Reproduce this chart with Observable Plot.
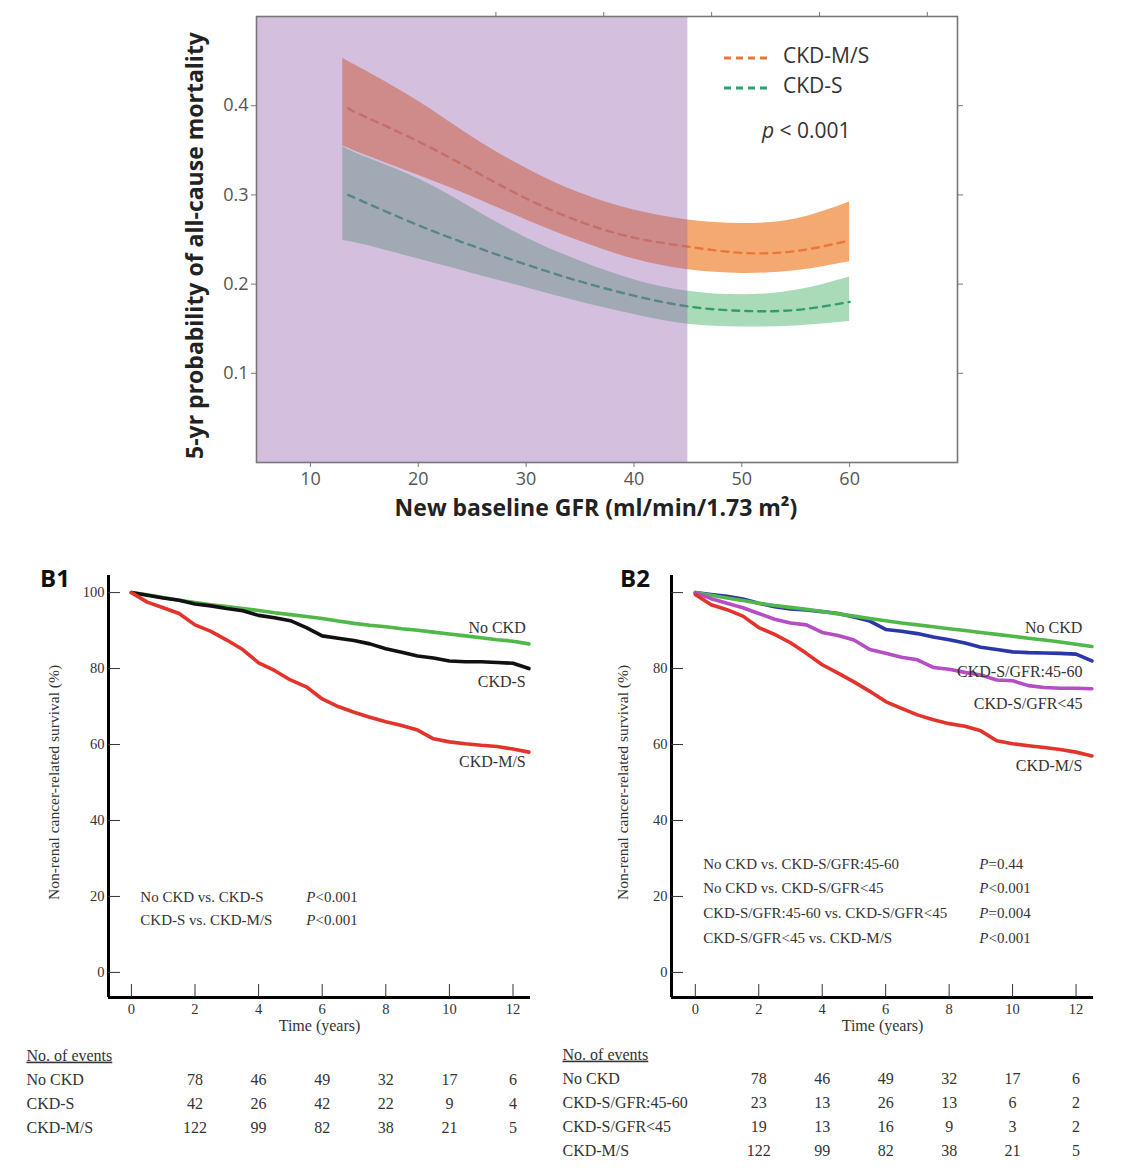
<!DOCTYPE html>
<html><head><meta charset="utf-8">
<script src="https://cdn.jsdelivr.net/npm/d3@7"></script>
<script src="https://cdn.jsdelivr.net/npm/@observablehq/plot@0.6"></script>
<style>
body{margin:0;background:#fff;}
#fig{position:relative;width:1140px;height:1176px;overflow:hidden;background:#fff;}
.leg{position:absolute;font-family:'Open Sans',sans-serif;font-size:21px;color:#333;line-height:1;white-space:nowrap;}
.blab{position:absolute;font-family:'Open Sans',sans-serif;font-weight:bold;font-size:24px;color:#111;line-height:1;}
</style></head><body><div id="fig"></div>
<script>
// ---------------- Panel A data ----------------
const gfrBand = [13, 15, 20, 25, 30, 35, 40, 45, 50, 55, 60];
const msUpper = [0.453, 0.440, 0.405, 0.365, 0.330, 0.302, 0.283, 0.272, 0.268, 0.273, 0.292];
const msLower = [0.355, 0.345, 0.322, 0.298, 0.272, 0.248, 0.228, 0.216, 0.212, 0.215, 0.225];
const sUpper  = [0.354, 0.343, 0.318, 0.285, 0.252, 0.226, 0.205, 0.192, 0.188, 0.193, 0.208];
const sLower  = [0.249, 0.244, 0.228, 0.212, 0.196, 0.180, 0.166, 0.155, 0.152, 0.153, 0.158];
const gfrFit  = [13.5, 15, 20, 25, 30, 35, 40, 45, 50, 55, 60];
const msFit   = [0.397, 0.388, 0.360, 0.328, 0.296, 0.270, 0.252, 0.242, 0.235, 0.237, 0.249];
const sFit    = [0.300, 0.292, 0.266, 0.243, 0.222, 0.203, 0.187, 0.175, 0.170, 0.171, 0.180];
const gfrCutoff = 45;
const aXDomain = [5, 70];
const aYDomain = [0, 0.5];
const aXTicks = [10, 20, 30, 40, 50, 60];
const aYTicks = [0.1, 0.2, 0.3, 0.4];
const aTopTicks = [27.2, 37.2, 47.2, 57.2, 67.2];
const aXTitle = "New baseline GFR (ml/min/1.73 m²)";
const aYTitle = "5-yr probability of all-cause mortality";
const aSeries = ["CKD-M/S", "CKD-S"];
const aPText = "< 0.001";

// ---------------- Panel B data ----------------
const bTime = [0,0.5,1,1.5,2,2.5,3,3.5,4,4.5,5,5.5,6,6.5,7,7.5,8,8.5,9,9.5,10,10.5,11,11.5,12,12.5];
const b1NoCkd = [100,99.4,98.7,98.0,97.4,96.8,96.3,95.8,95.3,94.7,94.2,93.7,93.2,92.5,91.9,91.4,91.0,90.5,90.1,89.6,89.1,88.6,88.1,87.6,87.2,86.5];
const b1CkdS  = [100,99.3,98.6,98.0,97.0,96.5,95.8,95.2,94.0,93.4,92.6,90.8,88.6,88.0,87.4,86.5,85.2,84.3,83.3,82.8,82.0,81.8,81.8,81.6,81.4,80.0];
const b1CkdMS = [100,97.5,96.0,94.5,91.5,89.8,87.5,85.0,81.5,79.5,77.0,75.2,72.0,70.0,68.5,67.2,66.0,65.0,63.8,61.5,60.7,60.2,59.8,59.5,58.8,58.0];
const b2NoCkd   = [100,99.3,98.6,97.9,97.2,96.6,96.1,95.6,95.0,94.4,93.8,93.2,92.6,92.0,91.5,91.0,90.5,90.0,89.5,89.0,88.5,88.0,87.5,87.0,86.4,85.8];
const b2Gfr4560 = [100,99.5,99.0,98.3,97.2,96.3,95.7,95.4,95.0,94.5,93.6,92.5,90.3,89.8,89.2,88.3,87.6,86.7,85.6,85.0,84.4,84.2,84.1,84.0,83.8,82.0];
const b2GfrLt45 = [100,98.4,97.2,96.0,94.5,93.0,92.0,91.5,89.5,88.7,87.5,85.0,84.0,83.0,82.3,80.3,79.8,79.0,78.3,77.0,76.8,75.5,75.0,74.8,74.8,74.7];
const b2CkdMS   = [99.5,96.8,95.5,93.8,90.8,89.0,86.8,84.0,81.0,78.8,76.5,74.0,71.3,69.5,67.8,66.5,65.5,64.8,63.6,61.0,60.2,59.7,59.2,58.7,58.0,57.0];
const bXTicks = [0, 2, 4, 6, 8, 10, 12];
const bYTicks = [0, 20, 40, 60, 80, 100];
const bXTitle = "Time (years)";
const bYTitle = "Non-renal cancer-related survival (%)";
const b1Names = ["No CKD", "CKD-S", "CKD-M/S"];
const b2Names = ["No CKD", "CKD-S/GFR:45-60", "CKD-S/GFR<45", "CKD-M/S"];
const b1Comparisons = ["No CKD vs. CKD-S", "CKD-S vs. CKD-M/S"];
const b1PValues = ["P<0.001", "P<0.001"];
const b2Comparisons = ["No CKD vs. CKD-S/GFR:45-60", "No CKD vs. CKD-S/GFR<45", "CKD-S/GFR:45-60 vs. CKD-S/GFR<45", "CKD-S/GFR<45 vs. CKD-M/S"];
const b2PValues = ["P=0.44", "P<0.001", "P=0.004", "P<0.001"];

// events table
const tableHeader = "No. of events";
const eventTimes = [2, 4, 6, 8, 10, 12];
const b1Rows = ["No CKD", "CKD-S", "CKD-M/S"];
const b1Events = [[78,46,49,32,17,6],[42,26,42,22,9,4],[122,99,82,38,21,5]];
const b2Rows = ["No CKD", "CKD-S/GFR:45-60", "CKD-S/GFR<45", "CKD-M/S"];
const b2Events = [[78,46,49,32,17,6],[23,13,26,13,6,2],[19,13,16,9,3,2],[122,99,82,38,21,5]];

// ---------------- styles (kept apart from data) ----------------
const aBandColors = ["#f4a970", "#a9dbb8"];
const aLineColors = ["#e8783a", "#2f9e6e"];
const shadeColor = "#965fb0";
const b1Colors = ["#4fb848", "#111111", "#e3342b"];
const b2Colors = ["#4fb848", "#2b37a8", "#b54dc4", "#e3342b"];
const b1DrawOrder = [0, 1, 2];
const b2DrawOrder = [1, 0, 2, 3];
// annotation anchors in data space
const b1LabelAt = {x: 12.4, y: [90.6, 76.4, 55.4]};
const b2LabelAt = {x: 12.2, y: [90.8, 79.2, 70.8, 54.5]};
const b1StatAt = {x: 0.28, px: 5.5, y: [19.7, 13.7]};
const b2StatAt = {x: 0.25, px: 8.95, y: [28.4, 22.1, 15.5, 8.9]};

const fig = document.getElementById("fig");
function place(el, left, top) { el.style.position = "absolute"; el.style.left = left + "px"; el.style.top = top + "px"; fig.appendChild(el); return el; }

// ---------------- Panel A ----------------
const bandMS = gfrBand.map((g, i) => ({g, lo: msLower[i], hi: msUpper[i]}));
const bandS  = gfrBand.map((g, i) => ({g, lo: sLower[i], hi: sUpper[i]}));
const fitMS = gfrFit.map((g, i) => ({g, v: msFit[i]}));
const fitS  = gfrFit.map((g, i) => ({g, v: sFit[i]}));

const plotA = Plot.plot({
  width: 1140, height: 540,
  marginLeft: 256, marginRight: 183, marginTop: 16, marginBottom: 78,
  x: {domain: aXDomain},
  y: {domain: aYDomain},
  style: {fontFamily: "'Open Sans', sans-serif", fontSize: "18px", color: "#555", background: "transparent", overflow: "visible"},
  marks: [
    Plot.areaY(bandMS, {x: "g", y1: "lo", y2: "hi", fill: aBandColors[0], curve: "natural"}),
    Plot.areaY(bandS, {x: "g", y1: "lo", y2: "hi", fill: aBandColors[1], curve: "natural"}),
    Plot.line(fitMS, {x: "g", y: "v", stroke: aLineColors[0], strokeWidth: 2.4, strokeDasharray: "7,6", curve: "natural"}),
    Plot.line(fitS, {x: "g", y: "v", stroke: aLineColors[1], strokeWidth: 2.4, strokeDasharray: "7,6", curve: "natural"}),
    Plot.rect([{x1: aXDomain[0], x2: gfrCutoff, y1: aYDomain[0], y2: aYDomain[1]}], {x1: "x1", x2: "x2", y1: "y1", y2: "y2", fill: shadeColor, fillOpacity: 0.4}),
    Plot.frame({stroke: "#777", strokeWidth: 1.6}),
    Plot.axisX(aXTicks, {anchor: "bottom", tickSize: 5, tickPadding: 5, stroke: "#777", label: null, tickFormat: d => String(d)}),
    Plot.axisX(aTopTicks, {anchor: "top", tickSize: 5, stroke: "#777", tickFormat: () => "", label: null}),
    Plot.axisY(aYTicks, {anchor: "left", tickSize: 5, tickPadding: 3, stroke: "#777", label: null, tickFormat: d => String(d)}),
    Plot.axisY(aYTicks, {anchor: "right", tickSize: 5, stroke: "#777", tickFormat: () => "", label: null}),
    Plot.text([aYTitle], {text: d => d, frameAnchor: "left", textAnchor: "middle", rotate: -90, dx: -61, dy: 6, fontWeight: "bold", fontSize: 23, fill: "#222"}),
    Plot.text([aXTitle], {text: d => d, frameAnchor: "bottom", textAnchor: "middle", dx: -11, dy: 53, fontWeight: "bold", fontSize: 23, fill: "#222"})
  ]
});
place(plotA, 0, 0);

// legend for panel A
function legendRow(color, label, top) {
  const wrap = document.createElement("div");
  wrap.className = "leg";
  wrap.innerHTML = `<svg width="48" height="6" style="position:absolute;left:0;top:-3px"><line x1="1" y1="3" x2="47" y2="3" stroke="${color}" stroke-width="3" stroke-dasharray="7,5"/></svg><span style="position:absolute;left:60px;top:-13px">${label}</span>`;
  place(wrap, 723, top);
}
legendRow(aLineColors[0], aSeries[0], 58);
legendRow(aLineColors[1], aSeries[1], 88);
const pDiv = document.createElement("div");
pDiv.className = "leg";
pDiv.innerHTML = `<i>p</i> ${aPText}`;
place(pDiv, 762, 120);

// ---------------- Panel B helpers ----------------
function italicP(svg) {
  d3.select(svg).selectAll("text").each(function () {
    const t = this.textContent;
    if (/^P[<=]/.test(t)) {
      const s = d3.select(this);
      s.text(null);
      s.append("tspan").attr("font-style", "italic").text("P");
      s.append("tspan").text(t.slice(1));
    }
  });
}

function kmPanel({width, marginLeft, marginRight, xDomain, series, colors, order, names, labelAt, comps, pvals, statAt, hideY, titleDx}) {
  const marks = [];
  for (const i of order) {
    const data = bTime.map((t, j) => ({t, s: series[i][j]}));
    marks.push(Plot.line(data, {x: "t", y: "s", stroke: colors[i], strokeWidth: 3.6, curve: "linear"}));
  }
  const yDomain = [-6.6, 104.5];
  marks.push(
    Plot.ruleX([xDomain[0]], {stroke: "#000", strokeWidth: 3}),
    Plot.ruleY([yDomain[0]], {stroke: "#000", strokeWidth: 3}),
    Plot.axisX(bXTicks, {anchor: "bottom", tickSize: -13, tickPadding: 19, stroke: "#333", label: null, fontSize: 14.5}),
    Plot.axisY(bYTicks, {anchor: "left", tickSize: -12, tickPadding: 16, stroke: "#333", label: null, fontSize: 14.5,
      tickFormat: d => hideY.includes(d) ? "" : String(d)}),
    Plot.text(names, {text: d => d, x: () => labelAt.x, y: (d, i) => labelAt.y[i], textAnchor: "end", fontSize: 16, fill: "#333"}),
    Plot.text(comps, {text: d => d, x: () => statAt.x, y: (d, i) => statAt.y[i], textAnchor: "start", fontSize: 15, fill: "#333"}),
    Plot.text(pvals, {text: d => d, x: () => statAt.px, y: (d, i) => statAt.y[i], textAnchor: "start", fontSize: 15, fill: "#333"}),
    Plot.text([bXTitle], {text: d => d, frameAnchor: "bottom", textAnchor: "middle", dy: 33, fontSize: 16, fill: "#333"}),
    Plot.text([bYTitle], {text: d => d, frameAnchor: "left", textAnchor: "middle", rotate: -90, dx: titleDx, dy: -4, fontSize: 15.5, fill: "#333"})
  );
  const svg = Plot.plot({
    width, height: 480, marginLeft, marginRight, marginTop: 15, marginBottom: 43,
    x: {domain: xDomain}, y: {domain: yDomain},
    style: {fontFamily: "'Liberation Serif', 'Times New Roman', serif", fontSize: "14.5px", color: "#333", background: "transparent", overflow: "visible"},
    marks
  });
  italicP(svg);
  return svg;
}

function eventsTable({width, marginLeft, marginRight, xDomain, rows, events, labelDx, marginBottom}) {
  const cells = [];
  rows.forEach((r, i) => events[i].forEach((n, j) => cells.push({row: r, t: eventTimes[j], n})));
  const all = [tableHeader, ...rows];
  const svg = Plot.plot({
    width, height: 136, marginLeft, marginRight, marginTop: 14, marginBottom,
    x: {domain: xDomain, axis: null},
    y: {type: "point", domain: all, padding: 0, axis: null},
    style: {fontFamily: "'Liberation Serif', 'Times New Roman', serif", fontSize: "16px", color: "#333", background: "transparent", overflow: "visible"},
    marks: [
      Plot.text(all, {text: d => d, y: d => d, frameAnchor: "left", dx: labelDx, textAnchor: "start", fill: "#333"}),
      Plot.text(cells, {x: "t", y: "row", text: "n", fill: "#333"})
    ]
  });
  d3.select(svg).selectAll("text").filter(function () { return this.textContent === tableHeader; })
    .style("text-decoration", "underline");
  return svg;
}

// ---------------- Panel B1 ----------------
const b1X = [-0.72, 12.55];
place(kmPanel({width: 560, marginLeft: 108, marginRight: 30, xDomain: b1X,
  series: [b1NoCkd, b1CkdS, b1CkdMS], colors: b1Colors, order: b1DrawOrder, names: b1Names,
  labelAt: b1LabelAt, comps: b1Comparisons, pvals: b1PValues, statAt: b1StatAt, hideY: [], titleDx: -54}), 0, 560);
place(eventsTable({width: 560, marginLeft: 108, marginRight: 30, xDomain: b1X, rows: b1Rows, events: b1Events, labelDx: -82, marginBottom: 49}), 0, 1040);

// ---------------- Panel B2 ----------------
const b2X = [-0.75, 12.55];
place(kmPanel({width: 580, marginLeft: 111, marginRight: 47, xDomain: b2X,
  series: [b2NoCkd, b2Gfr4560, b2GfrLt45, b2CkdMS], colors: b2Colors, order: b2DrawOrder, names: b2Names,
  labelAt: b2LabelAt, comps: b2Comparisons, pvals: b2PValues, statAt: b2StatAt, hideY: [100], titleDx: -48}), 560, 560);
place(eventsTable({width: 580, marginLeft: 111, marginRight: 47, xDomain: b2X, rows: b2Rows, events: b2Events, labelDx: -109, marginBottom: 26}), 560, 1040);

// panel letters
const l1 = document.createElement("div"); l1.className = "blab"; l1.textContent = "B1"; place(l1, 40, 566);
const l2 = document.createElement("div"); l2.className = "blab"; l2.textContent = "B2"; place(l2, 620, 566);
</script></body></html>
